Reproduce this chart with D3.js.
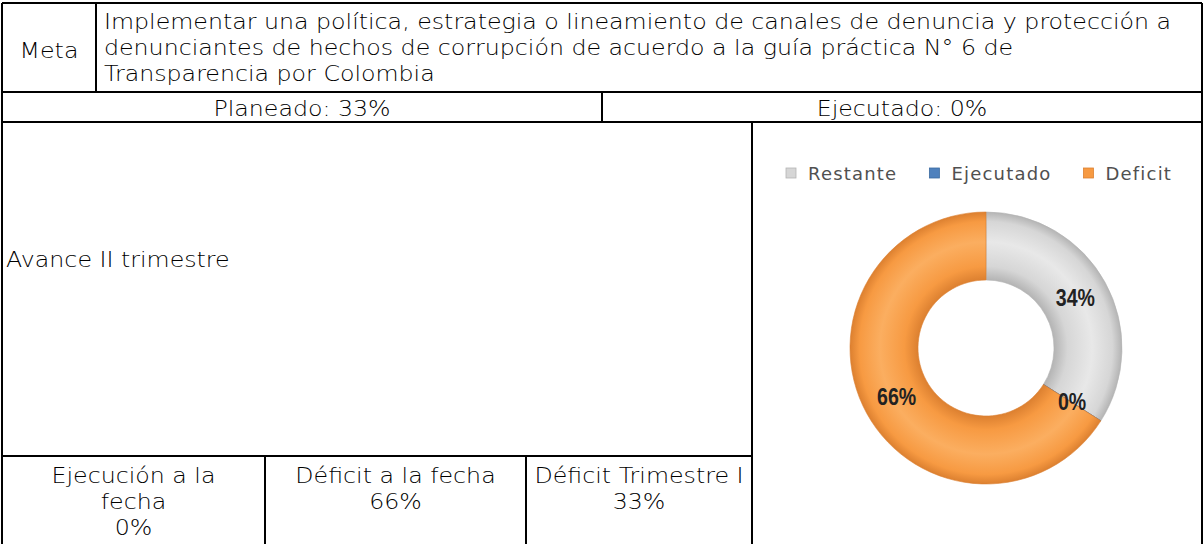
<!DOCTYPE html>
<html>
<head>
<meta charset="utf-8">
<script src="https://cdn.jsdelivr.net/npm/d3@7"></script>
<style>
  body { margin: 0; background: #fff; }
  svg { display: block; }
</style>
</head>
<body>
<svg></svg>
<script>
// table texts
const metaLines = [
  'Implementar una política, estrategia o lineamiento de canales de denuncia y protección a',
  'denunciantes de hechos de corrupción de acuerdo a la guía práctica N° 6 de',
  'Transparencia por Colombia'
]
const planned = 33
const executed = 0
const sectionLabel = 'Avance II trimestre'
const summaryTitles = [['Ejecución a la', 'fecha'], ['Déficit a la fecha'], ['Déficit Trimestre I']]
const summaryValues = [0, 66, 33]

// donut
const categories = ['Restante', 'Ejecutado', 'Deficit']
const shares = [34, 0, 66]

const dims = { width: 1204, height: 544 }
const svg = d3.select('svg')
  .attr('width', dims.width)
  .attr('height', dims.height)

// grid layout
const gx = { left: 2, meta: 96, planned: 602, chart: 752, right: 1202, cols: [2, 265, 526, 752] }
const gy = { top: 3, meta: 92, planned: 122, summary: 456, bottom: 544 }

const segments = [
  [gx.left, gy.top, gx.right, gy.top],
  [gx.left, gy.top, gx.left, gy.bottom],
  [gx.right, gy.top, gx.right, gy.bottom],
  [gx.left, gy.meta, gx.right, gy.meta],
  [gx.left, gy.planned, gx.right, gy.planned],
  [gx.left, gy.summary, gx.chart, gy.summary],
  [gx.meta, gy.top, gx.meta, gy.meta],
  [gx.planned, gy.meta, gx.planned, gy.planned],
  [gx.chart, gy.planned, gx.chart, gy.bottom],
  [gx.cols[1], gy.summary, gx.cols[1], gy.bottom],
  [gx.cols[2], gy.summary, gx.cols[2], gy.bottom]
]

svg.append('g').selectAll('line').data(segments)
  .enter().append('line')
    .attr('x1', d => d[0]).attr('y1', d => d[1])
    .attr('x2', d => d[2]).attr('y2', d => d[3])
    .attr('stroke', '#000')
    .attr('stroke-width', 2)
    .attr('shape-rendering', 'crispEdges')

const textG = svg.append('g')
  .attr('font-family', "'DejaVu Sans', sans-serif")
  .attr('font-size', 21)
  .attr('font-weight', 300)
  .attr('fill', '#000')

// the original font (Century Gothic) is wide: stretch glyphs so the first goal line fills its cell
const probe = textG.append('text').text(metaLines[0])
const k = 1068 / probe.node().getComputedTextLength()
probe.remove()
const place = (x, y) => `translate(${x},${y}) scale(${k},1)`

const lineH = 26
textG.append('text')
  .attr('transform', place((gx.left + gx.meta) / 2, 50))
  .attr('text-anchor', 'middle').attr('dominant-baseline', 'central')
  .text('Meta')

textG.selectAll('.goal').data(metaLines)
  .enter().append('text')
    .attr('class', 'goal')
    .attr('transform', (d, i) => place(gx.meta + 8, 21 + i * lineH))
    .attr('dominant-baseline', 'central')
    .text(d => d)

textG.selectAll('.status').data([`Planeado: ${planned}%`, `Ejecutado: ${executed}%`])
  .enter().append('text')
    .attr('class', 'status')
    .attr('transform', (d, i) => place(i === 0 ? (gx.left + gx.planned) / 2 : (gx.planned + gx.right) / 2,
                                       (gy.meta + gy.planned) / 2 + 1))
    .attr('text-anchor', 'middle').attr('dominant-baseline', 'central')
    .text(d => d)

textG.append('text')
  .attr('transform', place(gx.left + 4, 259))
  .attr('dominant-baseline', 'central')
  .text(sectionLabel)

summaryTitles.forEach((lines, i) => {
  const cx = (gx.cols[i] + gx.cols[i + 1]) / 2
  textG.selectAll('.sum' + i).data(lines.concat(summaryValues[i] + '%'))
    .enter().append('text')
      .attr('transform', (d, j) => place(cx, gy.summary + 19 + j * lineH))
      .attr('text-anchor', 'middle').attr('dominant-baseline', 'central')
      .text(d => d)
})

// donut chart
const center = { x: 986, y: 348 }
const radius = { inner: 68, outer: 136 }
const color = d3.scaleOrdinal().domain(categories).range(['#d6d6d6', '#4f81bd', '#f79a42'])
const edge = d3.scaleOrdinal().domain(categories).range(['#b4b4b4', '#3b6aa0', '#dc8030'])
const light = d3.scaleOrdinal().domain(categories).range(['#e8e8e8', '#6a98cf', '#fbae60'])

const defs = svg.append('defs')
categories.forEach((c, i) => {
  const grad = defs.append('radialGradient')
    .attr('id', 'grad' + i)
    .attr('gradientUnits', 'userSpaceOnUse')
    .attr('cx', 0).attr('cy', 0).attr('r', radius.outer)
  grad.append('stop').attr('offset', 0.5).attr('stop-color', edge(c))
  grad.append('stop').attr('offset', 0.6).attr('stop-color', color(c))
  grad.append('stop').attr('offset', 0.78).attr('stop-color', light(c))
  grad.append('stop').attr('offset', 0.93).attr('stop-color', color(c))
  grad.append('stop').attr('offset', 1).attr('stop-color', edge(c))
})

const pie = d3.pie().sort(null).value(d => d)
const arc = d3.arc().innerRadius(radius.inner).outerRadius(radius.outer)
const slices = pie(shares)

const donutG = svg.append('g')
  .attr('transform', `translate(${center.x},${center.y})`)

donutG.selectAll('path').data(slices)
  .enter().append('path')
    .attr('d', arc)
    .attr('fill', (d, i) => `url(#grad${i})`)
    .attr('stroke', (d, i) => edge(categories[i]))
    .attr('stroke-width', 0.6)

// narrow bold labels, like Arial Narrow
donutG.selectAll('text').data(slices)
  .enter().append('text')
    .attr('transform', d => `translate(${arc.centroid(d)}) scale(0.85,1)`)
    .attr('text-anchor', 'middle')
    .attr('dominant-baseline', 'central')
    .attr('font-family', "'Liberation Sans', Arial, sans-serif")
    .attr('font-weight', 'bold')
    .attr('font-size', 23)
    .attr('fill', '#222')
    .text(d => d.data + '%')

// legend
const legendG = svg.append('g')
  .attr('font-family', "'DejaVu Sans', Verdana, sans-serif")
  .attr('font-size', 18)
  .attr('fill', '#505050')
  .style('letter-spacing', '1.2px')

let lx = 786
const ly = 173
categories.forEach((c, i) => {
  legendG.append('rect')
    .attr('x', lx).attr('y', ly - 5)
    .attr('width', 10).attr('height', 10)
    .attr('fill', color(c))
    .attr('stroke', edge(c)).attr('stroke-width', 0.8)
  const t = legendG.append('text')
    .attr('x', lx + 22).attr('y', ly)
    .attr('dominant-baseline', 'central')
    .text(c)
  lx += 22 + t.node().getComputedTextLength() + 32
})
</script>
</body>
</html>
